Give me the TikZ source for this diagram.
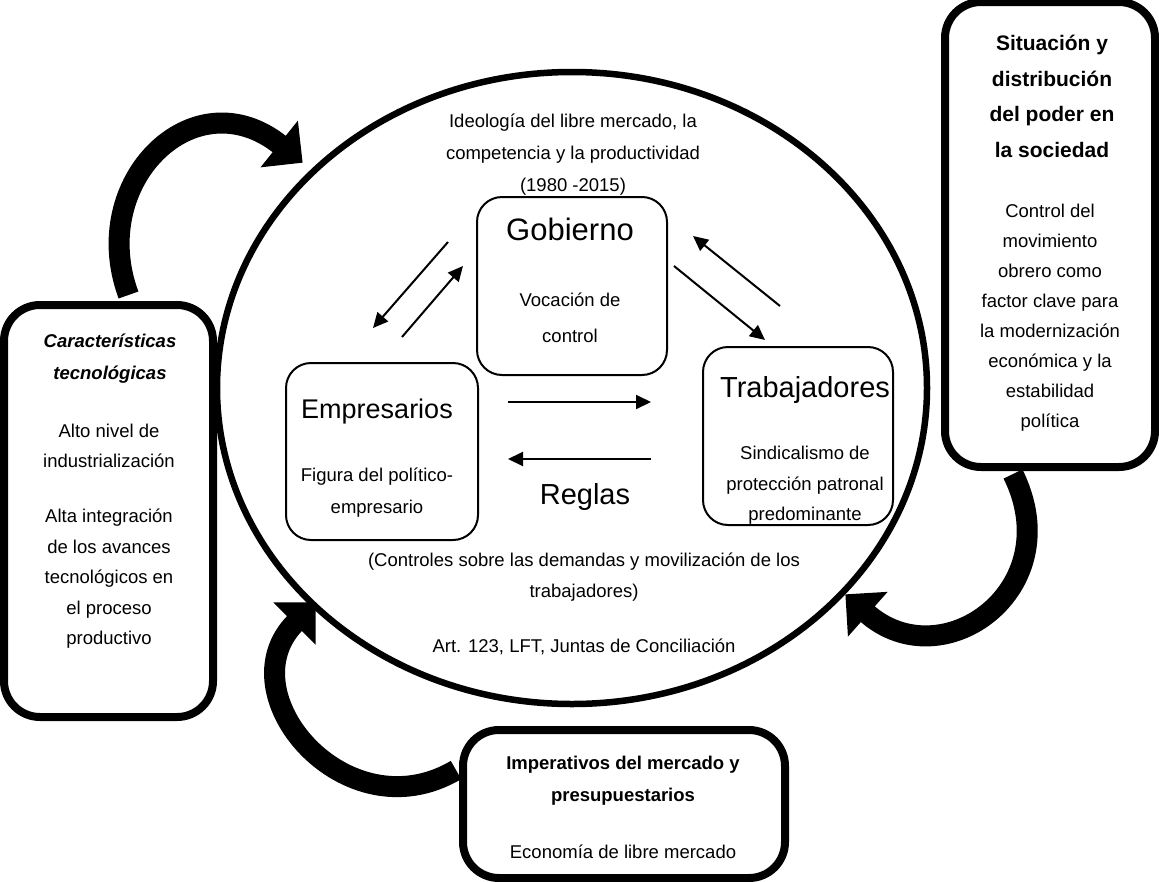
\documentclass[tikz,border=0pt]{standalone}
\usepackage{fontspec}
\setmainfont{Liberation Sans}
\usepackage{tikz}
\usetikzlibrary{arrows.meta,positioning,shapes.geometric,calc}
\tikzset{
  actor/.style={draw, rounded corners=25pt, line width=2pt, inner sep=0pt,
                minimum width=190pt, minimum height=178pt},
  frame/.style={draw, rounded corners=36pt, line width=8pt, inner sep=0pt},
  hdr/.style={inner sep=0pt, font=\fontsize{29}{34}\selectfont},
  txt/.style={align=center, inner sep=0pt, font=\fontsize{18.5}{30.5}\selectfont},
  ttl/.style={align=center, inner sep=0pt, font=\fontsize{18.5}{32}\selectfont\bfseries},
  rel/.style={line width=2pt, -{Triangle[length=15pt,width=14pt]}},
  bigarr/.style={line width=21pt, -{Triangle[length=30pt,width=58pt]}},
}

\begin{document}
\begin{tikzpicture}[x=1pt, y=-1pt]
    \useasboundingbox (0,0) rectangle (1159,881);
    \node[draw, ellipse, line width=6.5pt, minimum width=710pt, minimum height=632pt,
          inner sep=0pt] (ideo) at (572,388) {};
    \node[txt, font=\fontsize{18.5}{32}\selectfont] (ideoT) at (573,155)
      {Ideología del libre mercado, la\\competencia y la productividad\\(1980 -2015)};
    \node[txt, font=\fontsize{18.5}{31}\selectfont] (ctrlT) at (584,577.5)
      {(Controles sobre las demandas y movilización de los\\trabajadores)};
    \node[txt] (artT) at (584,647) {Art. 123, LFT, Juntas de Conciliación};

    \node[actor] (gob) at (572,286) {};
    \node[hdr, font=\fontsize{31}{36}\selectfont] (gobT) at (570,229) {Gobierno};
    \node[txt, font=\fontsize{18.5}{36}\selectfont] (gobD) at (570,318) {Vocación de\\control};

    \node[actor, minimum width=192pt, minimum height=177pt] (emp) at (382,451.5) {};
    \node[hdr, font=\fontsize{27}{32}\selectfont] (empT) at (377,412) {Empresarios};
    \node[txt, font=\fontsize{18.5}{32}\selectfont] (empD) at (377,493)
      {Figura del político-\\empresario};

    \node[actor] (trab) at (798,436) {};
    \node[hdr] (trabT) at (805,390) {Trabajadores};
    \node[txt] (trabD) at (805,485.5) {Sindicalismo de\\protección patronal\\predominante};

    \node[hdr] (reglasT) at (585,497) {Reglas};

    \draw[rel] ([shift={(-28,-44)}]gob.west) -- ([shift={(-9,-34)}]emp.north);
    \draw[rel] ([shift={(20,-25)}]emp.north) -- ([shift={(-13,-20)}]gob.west);
    \draw[rel] ([shift={(6,-20)}]gob.east) -- ([shift={(-33,-6)}]trab.north);
    \draw[rel] ([shift={(-18,-40)}]trab.north) -- ([shift={(25,-50)}]gob.east);
    \draw[rel] ([shift={(29,-49.5)}]emp.east) -- ([shift={(-51,-34)}]trab.west);
    \draw[rel] ([shift={(-51,23)}]trab.west) -- ([shift={(29,7.5)}]emp.east);

    \node[frame, minimum width=209pt, minimum height=412pt] (cara) at (108.5,511) {};
    \node[ttl, font=\fontsize{18.5}{32}\selectfont\bfseries\itshape] (caraT) at (110,359)
      {Características\\tecnológicas};
    \node[txt] (caraD) at (109,536)
      {Alto nivel de\\industrialización\\[24.5pt]Alta integración\\de los avances\\tecnológicos en\\el proceso\\productivo};

    \node[frame, minimum width=210pt, minimum height=465pt] (sit) at (1050,234.5) {};
    \node[ttl, font=\fontsize{21}{35.7}\selectfont\bfseries] (sitT) at (1052,96.5)
      {Situación y\\distribución\\del poder en\\la sociedad};
    \node[txt, font=\fontsize{18.5}{30}\selectfont] (sitD) at (1050,318)
      {Control del\\movimiento\\obrero como\\factor clave para\\la modernización\\económica y la\\estabilidad\\política};

    \node[frame, minimum width=322pt, minimum height=148pt] (imp) at (624,804) {};
    \node[ttl] (impT) at (623,781) {Imperativos del mercado y\\presupuestarios};
    \node[txt] (impD) at (623,852) {Economía de libre mercado};

    \draw[bigarr] ([shift={(20,-6)}]cara.north)
      .. controls +(-42,-113) and +(-109,-87) .. ([shift={(-31,13)}]ideo.135);
    \draw[bigarr] ([shift={(-3,-34)}]imp.west)
      .. controls +(-110,65) and +(-91,91) .. ([shift={(-18,-24)}]ideo.-135);
    \draw[bigarr] ([shift={(-37,3)}]sit.south)
      .. controls +(57,115) and +(97,86) .. ([shift={(35,-32)}]ideo.-45);
\end{tikzpicture}
\end{document}
